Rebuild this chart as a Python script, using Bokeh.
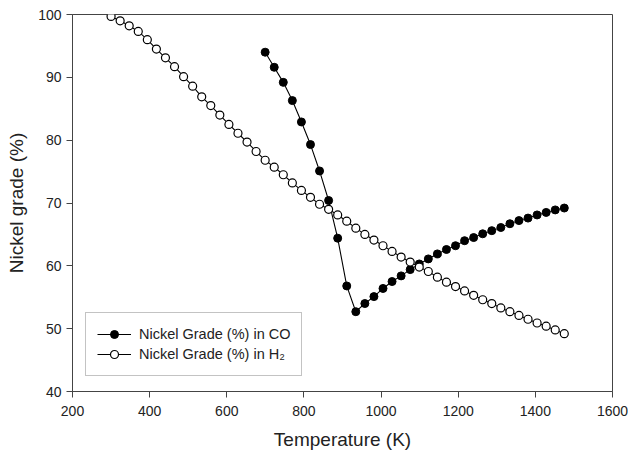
from bokeh.plotting import figure
from bokeh.models import Legend, LegendItem, Range1d, FixedTicker
from bokeh.embed import file_html
from bokeh.resources import INLINE

# Temperatures (K)
temp_h2 = [300, 323.5, 347, 370.5, 394, 417.5, 441, 464.5, 488, 511.5,
           535, 558.5, 582, 605.5, 629, 652.5, 676, 699.5, 723, 746.5,
           770, 793.5, 817, 840.5, 864, 887.5, 911, 934.5, 958, 981.5,
           1005, 1028.5, 1052, 1075.5, 1099, 1122.5, 1146, 1169.5, 1193, 1216.5,
           1240, 1263.5, 1287, 1310.5, 1334, 1357.5, 1381, 1404.5, 1428, 1451.5,
           1475]
grade_h2 = [99.7, 99.0, 98.2, 97.3, 96.0, 94.5, 93.1, 91.7, 90.1, 88.6,
            86.9, 85.5, 84.0, 82.5, 81.1, 79.7, 78.2, 76.8, 75.7, 74.5,
            73.2, 72.0, 70.9, 69.8, 69.0, 68.1, 67.1, 66.0, 65.0, 64.1,
            63.2, 62.3, 61.4, 60.6, 59.8, 59.1, 58.2, 57.4, 56.7, 56.0,
            55.3, 54.6, 54.0, 53.3, 52.7, 52.1, 51.5, 50.9, 50.4, 49.8,
            49.2]

temp_co = [699.5, 723, 746.5, 770, 793.5, 817, 840.5, 864, 887.5, 911,
           934.5, 958, 981.5, 1005, 1028.5, 1052, 1075.5, 1099, 1122.5, 1146,
           1169.5, 1193, 1216.5, 1240, 1263.5, 1287, 1310.5, 1334, 1357.5, 1381,
           1404.5, 1428, 1451.5, 1475]
grade_co = [94.0, 91.6, 89.2, 86.3, 82.9, 79.3, 75.1, 70.4, 64.4, 56.8,
            52.7, 54.0, 55.1, 56.4, 57.5, 58.4, 59.4, 60.3, 61.1, 61.9,
            62.6, 63.2, 64.0, 64.5, 65.1, 65.6, 66.1, 66.7, 67.2, 67.6,
            68.1, 68.5, 68.9, 69.2]

x_ticks = [200, 400, 600, 800, 1000, 1200, 1400, 1600]
y_ticks = [40, 50, 60, 70, 80, 90, 100]

FONT = "Liberation Sans"
TXT = "#222222"
AX = "#444444"

p = figure(width=628, height=452, output_backend="svg", toolbar_location=None,
           x_range=Range1d(200, 1600), y_range=Range1d(40, 100),
           min_border_left=72, min_border_right=16, min_border_top=14, min_border_bottom=60)

p.background_fill_color = "white"
p.border_fill_color = "white"
p.outline_line_color = AX
p.outline_line_width = 1
p.grid.visible = False

for ax in (p.xaxis[0], p.yaxis[0]):
    ax.axis_line_color = AX
    ax.major_tick_line_color = AX
    ax.major_tick_out = 6
    ax.major_tick_in = 0
    ax.minor_tick_line_color = None
    ax.major_label_text_font = FONT
    ax.major_label_text_font_size = "14px"
    ax.major_label_text_color = TXT
    ax.axis_label_text_font = FONT
    ax.axis_label_text_font_size = "19px"
    ax.axis_label_text_font_style = "normal"
    ax.axis_label_text_color = TXT

p.xaxis.ticker = FixedTicker(ticks=x_ticks)
p.yaxis.ticker = FixedTicker(ticks=y_ticks)
p.xaxis.axis_label = "Temperature (K)"
p.yaxis.axis_label = "Nickel grade (%)"
p.xaxis.major_label_standoff = 8
p.yaxis.major_label_standoff = 5
p.xaxis.axis_label_standoff = 10
p.yaxis.axis_label_standoff = 8

l1 = p.line(temp_co, grade_co, line_color="black", line_width=1.1)
s1 = p.scatter(temp_co, grade_co, size=8, marker="circle", fill_color="black", line_color="black")
l2 = p.line(temp_h2, grade_h2, line_color="black", line_width=1.1)
s2 = p.scatter(temp_h2, grade_h2, size=8, marker="circle", fill_color="white", line_color="black", line_width=1.2)

legend = Legend(items=[LegendItem(label="Nickel Grade (%) in CO", renderers=[l1, s1]),
                       LegendItem(label="Nickel Grade (%) in H\u2082", renderers=[l2, s2])],
                location=(13, 15))
legend.label_text_font = FONT
legend.label_text_font_size = "14.5px"
legend.label_text_color = TXT
legend.border_line_color = "#888888"
legend.border_line_width = 1
legend.background_fill_color = "white"
legend.background_fill_alpha = 1
legend.padding = 11
legend.spacing = 0
legend.margin = 0
legend.label_height = 20
legend.glyph_height = 20
legend.glyph_width = 34
legend.label_standoff = 8
p.add_layout(legend, "center")

open("out.html", "w").write(file_html(p, INLINE))
